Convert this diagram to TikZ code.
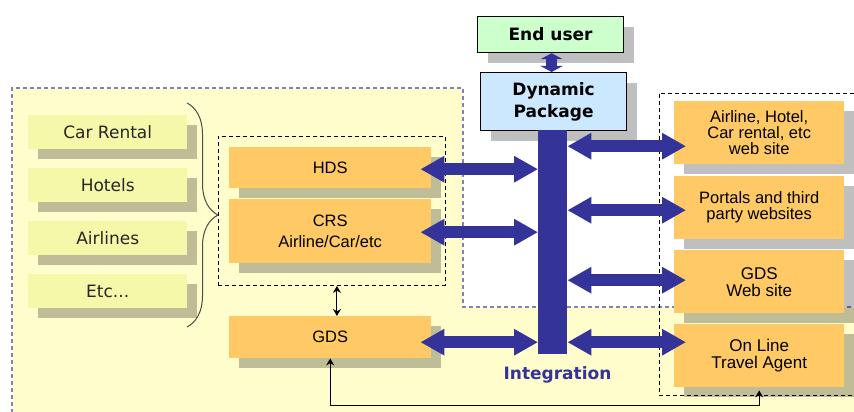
\documentclass[tikz,border=0pt]{standalone}
\usepackage{fontspec}
\setmainfont{Liberation Sans}
\newfontfamily\verd{DejaVu Sans}
\usetikzlibrary{arrows.meta,shadows,decorations.pathreplacing}
\definecolor{bgyel}{RGB}{255,253,204}
\definecolor{limey}{RGB}{244,248,168}
\definecolor{orng}{RGB}{255,202,102}
\definecolor{navy}{RGB}{51,51,153}
\definecolor{endg}{RGB}{204,255,204}
\definecolor{dpblue}{RGB}{204,232,255}
\definecolor{dashblue}{RGB}{128,128,200}
\begin{document}
\begin{tikzpicture}[x=1pt,y=-1pt,
 shad/.style={drop shadow={shadow xshift=10pt,shadow yshift=-10pt,fill=black,opacity=0.25}},
 srcbox/.style={shad,fill=limey,minimum width=159pt,minimum height=34pt,inner sep=0pt,anchor=north west,text=black!85,font=\verd\fontsize{17}{20}\selectfont},
 sysbox/.style={shad,fill=orng,minimum width=202pt,inner sep=0pt,anchor=north west,align=center,font=\fontsize{16.5}{21}\selectfont},
 sitebox/.style={shad,fill=orng,minimum width=170pt,minimum height=63pt,inner sep=0pt,anchor=north west,align=center},
 topbox/.style={shad,draw=black,line width=1.2pt,inner sep=0pt,anchor=north west,align=center,font=\verd\bfseries\fontsize{17}{22}\selectfont},
 fat/.style={navy,line width=12pt,{Triangle[length=24pt,width=25pt]}-{Triangle[length=24pt,width=25pt]}},
 blackdash/.style={draw=black,dash pattern=on 4pt off 3pt,line width=0.9pt,inner sep=0pt,anchor=north west},
 thinarrow/.style={line width=1pt,{Stealth[length=7pt,width=8pt]}-{Stealth[length=7pt,width=8pt]}},
]
\useasboundingbox (0,0) rectangle (854,412);
\clip (0,0) rectangle (854,412);
\fill[white] (0,0) rectangle (854,412);
% yellow region
\fill[bgyel] (12,88) -- (463,88) -- (463,307) -- (870,307) -- (870,420) -- (12,420) -- cycle;
\draw[dashblue,line width=1.3pt,dash pattern=on 4pt off 3pt] (12,420) -- (12,88) -- (463,88) -- (463,307) -- (870,307);

% source boxes
\node[srcbox] (car) at (28,115) {Car Rental};
\node[srcbox] (hot) at (28,168) {Hotels};
\node[srcbox] (air) at (28,221) {Airlines};
\node[srcbox] (etc) at (28,274) {Etc...};
\coordinate (bt) at (187,103);
\coordinate (bb) at (187,327);
\draw[decorate,decoration={brace,amplitude=31pt},draw=black!70,line width=1pt] (bt) -- (bb);

% group boxes
\node[blackdash,minimum width=227pt,minimum height=149pt] (grp) at (218,136) {};
\node[blackdash,minimum width=230pt,minimum height=302pt] (grp2) at (659,93) {};

% systems
\node[sysbox,minimum height=41pt] (hds) at (229,147) {HDS};
\node[sysbox,minimum height=64pt] (crs) at (229,199) {CRS\\Airline/Car/etc};
\node[sysbox,minimum height=42pt] (gds) at (229,316) {GDS};

% web sites
\node[sitebox,font=\fontsize{16.5}{16}\selectfont] (r1) at (674,101) {Airline, Hotel,\\Car rental, etc\\web site};
\node[sitebox,font=\fontsize{16.5}{16}\selectfont] (r2) at (674,176) {Portals and third\\party websites};
\node[sitebox,font=\fontsize{17}{17}\selectfont] (r3) at (674,250) {GDS\\Web site};
\node[sitebox,font=\fontsize{17}{17}\selectfont] (r4) at (674,324) {On Line\\Travel Agent};

% top
\node[topbox,fill=endg,minimum width=146pt,minimum height=36pt] (eu) at (477,16) {End user};
\node[topbox,fill=dpblue,minimum width=146pt,minimum height=58pt] (dp) at (480,72) {Dynamic\\Package};

% integration bar
\node[fill=navy,minimum width=29pt,minimum height=224pt,inner sep=0pt,anchor=north west] (bar) at (538,130) {};
\node[anchor=base,text=navy,font=\verd\bfseries\fontsize{17}{20}\selectfont] (intl) at (557.5,379) {Integration};

% fat arrows left
\coordinate (ha) at ([shift={(-11,1.5)}]hds.east);
\coordinate (ca) at ([shift={(-11,1)}]crs.east);
\coordinate (ga) at ([shift={(-11,5)}]gds.east);
\draw[fat] (ha) -- (ha -| bar.west);
\draw[fat] (ca) -- (ca -| bar.west);
\draw[fat] (ga) -- (ga -| bar.west);

% fat arrows right
\coordinate (a1) at ([shift={(12,13.5)}]r1.west);
\coordinate (a2) at ([shift={(12,2.5)}]r2.west);
\coordinate (a3) at ([shift={(12,-1.5)}]r3.west);
\coordinate (a4) at ([shift={(12,-13.5)}]r4.west);
\draw[fat] (a1 -| bar.east) -- (a1);
\draw[fat] (a2 -| bar.east) -- (a2);
\draw[fat] (a3 -| bar.east) -- (a3);
\draw[fat] (a4 -| bar.east) -- (a4);

% end user <-> dynamic package
\coordinate (eua) at ([xshift=1pt]eu.south);
\draw[navy,line width=11pt,{Triangle[length=6pt,width=22pt]}-{Triangle[length=6pt,width=22pt]}] (eua) -- (eua |- dp.north);

% black arrows
\coordinate (ga2) at ([xshift=5pt]grp.south);
\draw[thinarrow] (ga2) -- (ga2 |- gds.north);
\draw[thinarrow] (gds.south) -- ++(0,47) -| ([yshift=-3pt]r4.south);
\end{tikzpicture}
\end{document}
